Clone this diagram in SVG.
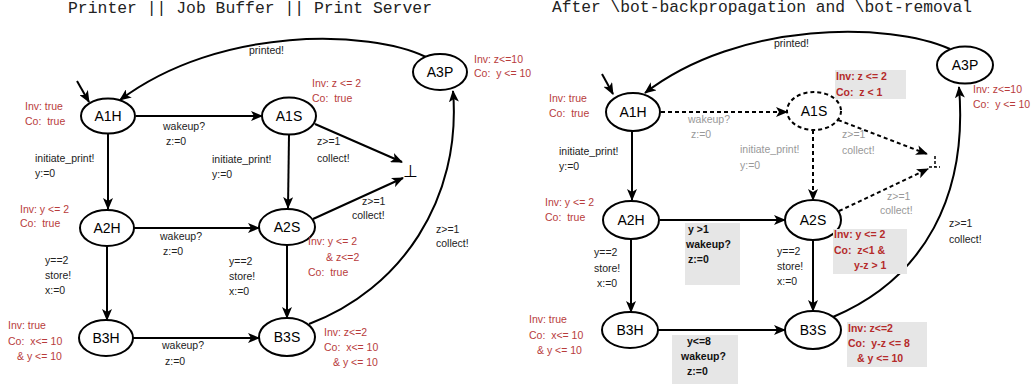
<svg xmlns="http://www.w3.org/2000/svg" width="1034" height="384" viewBox="0 0 1034 384" xml:space="preserve">
<style>
text { font-family: "Liberation Sans", Arial, sans-serif; font-size: 10.5px; white-space: pre; fill: #222; }
.title { font-family: "Liberation Mono", "Courier New", monospace; font-size: 16.4px; fill: #222; text-anchor: middle; }
.nl { font-size: 14px; text-anchor: middle; fill: #000; }
.red { fill: #b83c3c; }
.rb { fill: #b52b2b; font-weight: bold; }
.gray { fill: #999; }
.bold { font-weight: bold; fill: #111; }
.bot { font-size: 17px; fill: #000; text-anchor: middle; }
ellipse { fill: #fff; stroke: #000; stroke-width: 2; }
.dashed { stroke-dasharray: 4 3; }
.e { fill: none; stroke: #000; stroke-width: 2; marker-end: url(#arr); }
.box { fill: #e6e6e6; stroke: none; }
</style>
<defs>
<marker id="arr" viewBox="0 0 12 10" refX="11" refY="5" markerWidth="12" markerHeight="10" markerUnits="userSpaceOnUse" orient="auto">
<path d="M0,0 L12,5 L0,10 L3,5 z" fill="#000"/>
</marker>
</defs>
<rect width="1034" height="384" fill="#fff"/>

<text class="title" x="250" y="13">Printer || Job Buffer || Print Server</text>
<text class="title" x="762" y="12" style="font-size:16.3px">After \bot-backpropagation and \bot-removal</text>

<!-- LEFT connectors -->
<g id="left-connectors">
<path class="e" d="M77,81 L89,102"/>
<path class="e" d="M426,57 C370,30 220,25 120,100"/>
<text x="249" y="54">printed!</text>
<path class="e" d="M136,116 L262,116"/>
<text x="163" y="130">wakeup?</text>
<text x="166" y="145">z:=0</text>
<path class="e" d="M108,134 L108,209"/>
<text x="35" y="162">initiate_print!</text>
<text x="35" y="177">y:=0</text>
<path class="e" d="M289,135 L288,208"/>
<text x="212" y="163">initiate_print!</text>
<text x="212" y="178">y:=0</text>
<path class="e" d="M315,124 L402,162"/>
<text x="317" y="145">z&gt;=1</text>
<text x="317" y="162">collect!</text>
<text class="bot" x="410" y="177">⊥</text>
<path class="e" d="M313,219 L403,178"/>
<text x="362" y="205">z&gt;=1</text>
<text x="352" y="219">collect!</text>
<path class="e" d="M309,324 C400,290 462,200 453,91"/>
<text x="436" y="233">z&gt;=1</text>
<text x="436" y="247">collect!</text>
<path class="e" d="M134,228 L259,228"/>
<text x="160" y="240">wakeup?</text>
<text x="163" y="255">z:=0</text>
<path class="e" d="M107,246 L107,320"/>
<text x="45" y="264">y==2</text>
<text x="45" y="279">store!</text>
<text x="45" y="294">x:=0</text>
<path class="e" d="M287,245 L287,318"/>
<text x="229" y="265">y==2</text>
<text x="229" y="280">store!</text>
<text x="229" y="295">x:=0</text>
<path class="e" d="M133,338 L259,338"/>
<text x="162" y="349">wakeup?</text>
<text x="165" y="365">z:=0</text>
</g>

<!-- LEFT nodes -->
<g id="L-A1H">
<ellipse cx="108" cy="116" rx="27" ry="17.5"/>
<text class="nl" x="108" y="121">A1H</text>
<text class="red" x="25" y="110">Inv: true</text>
<text class="red" x="25" y="125">Co:  true</text>
</g>
<g id="L-A1S">
<ellipse cx="289" cy="116" rx="27" ry="18.5"/>
<text class="nl" x="289" y="121">A1S</text>
<text class="red" x="312" y="87">Inv: z &lt;= 2</text>
<text class="red" x="312" y="102">Co:  true</text>
</g>
<g id="L-A3P">
<ellipse cx="440" cy="72" rx="27" ry="18"/>
<text class="nl" x="440" y="77">A3P</text>
<text class="red" x="474" y="63">Inv: z&lt;=10</text>
<text class="red" x="474" y="77">Co:  y &lt;= 10</text>
</g>
<g id="L-A2H">
<ellipse cx="107" cy="228" rx="27" ry="18"/>
<text class="nl" x="107" y="233">A2H</text>
<text class="red" x="20" y="213">Inv: y &lt;= 2</text>
<text class="red" x="20" y="227">Co:  true</text>
</g>
<g id="L-A2S">
<ellipse cx="287" cy="227" rx="28" ry="18"/>
<text class="nl" x="287" y="232">A2S</text>
<text class="red" x="308" y="245">Inv: y &lt;= 2</text>
<text class="red" x="326" y="261">&amp; z&lt;=2</text>
<text class="red" x="308" y="276">Co:  true</text>
</g>
<g id="L-B3H">
<ellipse cx="106" cy="338" rx="27" ry="18"/>
<text class="nl" x="106" y="343">B3H</text>
<text class="red" x="8" y="329">Inv: true</text>
<text class="red" x="8" y="345">Co:  x&lt;= 10</text>
<text class="red" x="17" y="360">&amp; y &lt;= 10</text>
</g>
<g id="L-B3S">
<ellipse cx="287" cy="337" rx="28" ry="19"/>
<text class="nl" x="287" y="342">B3S</text>
<text class="red" x="324" y="336">Inv: z&lt;=2</text>
<text class="red" x="324" y="351">Co:  x&lt;= 10</text>
<text class="red" x="333" y="366">&amp; y &lt;= 10</text>
</g>

<!-- RIGHT connectors -->
<g id="right-connectors">
<path class="e" d="M602,74 L613,94"/>
<path class="e" d="M950,49 C890,22 740,20 645,93"/>
<text x="774" y="47">printed!</text>
<path class="e dashed" d="M661,112 L787,112"/>
<text class="gray" x="688" y="123">wakeup?</text>
<text class="gray" x="691" y="138">z:=0</text>
<path class="e" d="M632,131 L632,200"/>
<text x="559" y="155">initiate_print!</text>
<text x="559" y="170">y:=0</text>
<path class="e dashed" d="M813,130 L813,200"/>
<text class="gray" x="740" y="153">initiate_print!</text>
<text class="gray" x="740" y="169">y:=0</text>
<path class="e dashed" d="M838,120 L927,154"/>
<text class="gray" x="842" y="138">z&gt;=1</text>
<text class="gray" x="842" y="154">collect!</text>
<path d="M935,156 V167 M929,167 H940" fill="none" stroke="#000" stroke-width="1.5" stroke-dasharray="3 2"/>
<path class="e dashed" d="M839,211 L928,169"/>
<text class="gray" x="887" y="200">z&gt;=1</text>
<text class="gray" x="880" y="214">collect!</text>
<path class="e" d="M833,317 C925,278 968,195 959,87"/>
<text x="949" y="227">z&gt;=1</text>
<text x="949" y="243">collect!</text>
<path class="e" d="M660,220 L785,220"/>
<rect class="box" x="685" y="223" width="55" height="62"/>
<text class="bold" x="688" y="233">y &gt;1</text>
<text class="bold" x="686" y="248">wakeup?</text>
<text class="bold" x="688" y="263">z:=0</text>
<path class="e" d="M631,240 L631,312"/>
<text x="594" y="256">y==2</text>
<text x="594" y="272">store!</text>
<text x="597" y="287">x:=0</text>
<path class="e" d="M813,241 L813,311"/>
<text x="777" y="255">y==2</text>
<text x="777" y="270">store!</text>
<text x="777" y="285">x:=0</text>
<path class="e" d="M658,330 L785,330"/>
<rect class="box" x="672" y="335" width="66" height="49"/>
<text class="bold" x="687" y="345">y&lt;=8</text>
<text class="bold" x="681" y="360">wakeup?</text>
<text class="bold" x="687" y="375">z:=0</text>
</g>

<!-- RIGHT nodes -->
<g id="R-A1H">
<ellipse cx="633" cy="112" rx="27" ry="19"/>
<text class="nl" x="633" y="117">A1H</text>
<text class="red" x="549" y="102">Inv: true</text>
<text class="red" x="549" y="117">Co:  true</text>
</g>
<g id="R-A1S">
<ellipse class="dashed" cx="814" cy="111" rx="27" ry="19"/>
<text class="nl" x="814" y="116">A1S</text>
<rect class="box" x="835" y="70" width="71" height="29"/>
<text class="rb" x="836" y="80">Inv: z &lt;= 2</text>
<text class="rb" x="836" y="96">Co:  z &lt; 1</text>
</g>
<g id="R-A3P">
<ellipse cx="965" cy="65" rx="28" ry="18.5"/>
<text class="nl" x="965" y="70">A3P</text>
<text class="red" x="973" y="93">Inv: z&lt;=10</text>
<text class="red" x="973" y="108">Co:  y &lt;= 10</text>
</g>
<g id="R-A2H">
<ellipse cx="631" cy="220" rx="28" ry="19"/>
<text class="nl" x="631" y="225">A2H</text>
<text class="red" x="545" y="206">Inv: y &lt;= 2</text>
<text class="red" x="545" y="221">Co:  true</text>
</g>
<g id="R-A2S">
<ellipse cx="813" cy="220" rx="28" ry="20"/>
<text class="nl" x="813" y="225">A2S</text>
<rect class="box" x="833" y="229" width="74" height="45"/>
<text class="rb" x="834" y="238">Inv: y &lt;= 2</text>
<text class="rb" x="834" y="254">Co:  z&lt;1 &amp;</text>
<text class="rb" x="854" y="269">y-z &gt; 1</text>
</g>
<g id="R-B3H">
<ellipse cx="630" cy="330" rx="28" ry="18"/>
<text class="nl" x="630" y="335">B3H</text>
<text class="red" x="529" y="323">Inv: true</text>
<text class="red" x="529" y="339">Co:  x&lt;= 10</text>
<text class="red" x="537" y="354">&amp; y &lt;= 10</text>
</g>
<g id="R-B3S">
<ellipse cx="813" cy="330" rx="28" ry="19"/>
<text class="nl" x="813" y="335">B3S</text>
<rect class="box" x="847" y="322" width="80" height="45"/>
<text class="rb" x="848" y="332">Inv: z&lt;=2</text>
<text class="rb" x="848" y="347">Co:  y-z &lt;= 8</text>
<text class="rb" x="857" y="362">&amp; y &lt;= 10</text>
</g>
</svg>
